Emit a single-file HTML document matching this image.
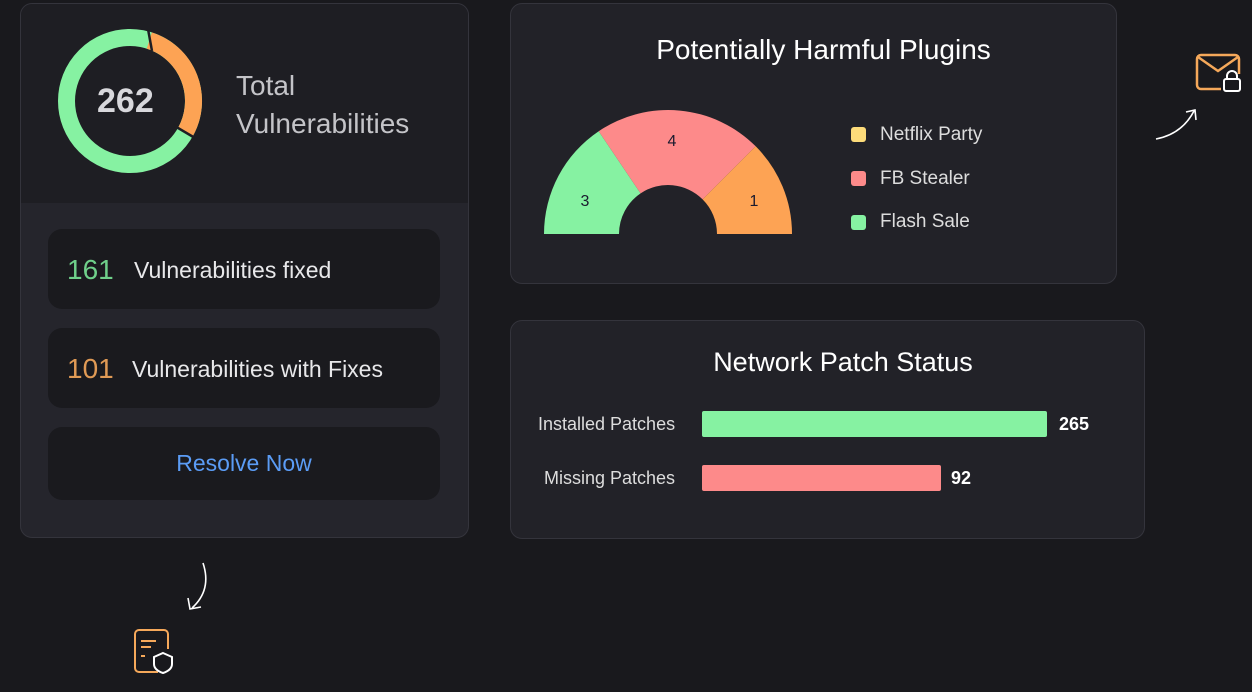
<!DOCTYPE html>
<html><head><style>
body{margin:0;width:1252px;height:692px;background:#19191d;font-family:"Liberation Sans",sans-serif;position:relative;overflow:hidden;color:#fff}
.card{position:absolute;border:1px solid #34343c;border-radius:12px;background:#222228;box-sizing:border-box}
.row{position:absolute;left:48px;width:392px;height:80px;background:#1a1a1e;border-radius:14px;font-size:23px;color:#e8e8ea}
.t{position:absolute;white-space:nowrap}
</style></head><body>
<div class="card" style="left:20px;top:3px;width:449px;height:535px;overflow:hidden;background:#25252c">
  <div style="position:absolute;left:0;top:0;width:100%;height:199px;background:#1e1e23"></div>
</div>
<div class="card" style="left:510px;top:3px;width:607px;height:281px;background:#222228"></div>
<div class="card" style="left:510px;top:320px;width:635px;height:219px;background:#222228"></div>
<svg style="position:absolute;left:0;top:0" width="1252" height="692">
  <circle cx="130" cy="101" r="63.5" fill="none" stroke="#86f2a2" stroke-width="17"/>
  <path d="M149.3,40.5 A63.5,63.5 0 0 1 185,132.8" fill="none" stroke="#fda354" stroke-width="17"/>
  <line x1="148" y1="29" x2="152" y2="51" stroke="#1e1e23" stroke-width="2.5"/>
  <line x1="173" y1="125" x2="195" y2="138" stroke="#1e1e23" stroke-width="2.5"/>
  <path d="M544,234 A124,124 0 0 1 598.7,131.2 L640.6,193.4 A49,49 0 0 0 619,234 Z" fill="#86f2a2"/>
  <path d="M598.7,131.2 A124,124 0 0 1 755.7,146.3 L702.6,199.4 A49,49 0 0 0 640.6,193.4 Z" fill="#fd8a8a"/>
  <path d="M755.7,146.3 A124,124 0 0 1 792,234 L717,234 A49,49 0 0 0 702.6,199.4 Z" fill="#fda354"/>
  <text x="585" y="206" font-size="16" fill="#1a1a2e" text-anchor="middle" font-family="Liberation Sans">3</text>
  <text x="672" y="146" font-size="16" fill="#1a1a2e" text-anchor="middle" font-family="Liberation Sans">4</text>
  <text x="754" y="206" font-size="16" fill="#1a1a2e" text-anchor="middle" font-family="Liberation Sans">1</text>
  <rect x="1197" y="55" width="42" height="34" rx="4" fill="none" stroke="#f5a85a" stroke-width="2.5"/>
  <path d="M1198,57 L1218,71 L1238,57" fill="none" stroke="#f5a85a" stroke-width="2.5"/>
  <rect x="1221" y="74" width="20" height="18" fill="#19191d"/>
  <rect x="1224" y="79" width="16" height="12" rx="2" fill="none" stroke="#fff" stroke-width="2"/>
  <path d="M1227,79 v-3 a5,5 0 0 1 10,0 v3" fill="none" stroke="#fff" stroke-width="2"/>
  <path d="M1156,139 Q1182,134 1194,111 M1186,112 L1195,110 L1196,120" fill="none" stroke="#fff" stroke-width="1.6"/>
  <path d="M203,563 Q212,590 192,608 M188,598 L190,609 L201,607" fill="none" stroke="#fff" stroke-width="1.6"/>
  <path d="M158,672 H139 a4,4 0 0 1 -4,-4 V634 a4,4 0 0 1 4,-4 H164 a4,4 0 0 1 4,4 V649" fill="none" stroke="#f5a85a" stroke-width="2"/>
  <path d="M141,641 h15 M141,647 h10 M141,656 h4" stroke="#f5a85a" stroke-width="2"/>
  <path d="M163,653 l9,4 v7 q0,6 -9,9 q-9,-3 -9,-9 v-7 z" fill="none" stroke="#fff" stroke-width="2"/>
</svg>
<div class="t" style="left:97px;top:82px;font-size:34px;font-weight:bold;color:#d8d8dc">262</div>
<div class="t" style="left:236px;top:67px;font-size:28px;line-height:38px;color:#c4c4c8">Total<br>Vulnerabilities</div>
<div class="row" style="top:229px"><span class="t" style="left:19px;top:25px;font-size:28px;color:#6fd08a">161</span><span class="t" style="left:86px;top:28px">Vulnerabilities fixed</span></div>
<div class="row" style="top:328px"><span class="t" style="left:19px;top:25px;font-size:28px;color:#e09a55">101</span><span class="t" style="left:84px;top:28px">Vulnerabilities with Fixes</span></div>
<div class="row" style="top:427px;height:73px"><span class="t" style="left:0;width:392px;text-align:center;top:23px;color:#5b9cf5">Resolve Now</span></div>

<div class="t" style="left:510px;width:627px;text-align:center;top:34px;font-size:28px">Potentially Harmful Plugins</div>
<div style="position:absolute;left:851px;top:127px;width:15px;height:15px;border-radius:3px;background:#fddc7a"></div>
<div class="t" style="left:880px;top:124px;font-size:19px;color:#ddd">Netflix Party</div>
<div style="position:absolute;left:851px;top:171px;width:15px;height:15px;border-radius:3px;background:#fd8a8a"></div>
<div class="t" style="left:880px;top:168px;font-size:19px;color:#ddd">FB Stealer</div>
<div style="position:absolute;left:851px;top:215px;width:15px;height:15px;border-radius:3px;background:#86f2a2"></div>
<div class="t" style="left:880px;top:211px;font-size:19px;color:#ddd">Flash Sale</div>

<div class="t" style="left:510px;width:666px;text-align:center;top:347px;font-size:27px">Network Patch Status</div>
<div class="t" style="left:538px;top:414px;font-size:18px;color:#ddd">Installed Patches</div>
<div style="position:absolute;left:702px;top:411px;width:345px;height:26px;background:#86f2a2;border-radius:2px"></div>
<div class="t" style="left:1059px;top:414px;font-size:18px;font-weight:bold">265</div>
<div class="t" style="left:544px;top:468px;font-size:18px;color:#ddd">Missing Patches</div>
<div style="position:absolute;left:702px;top:465px;width:239px;height:26px;background:#fd8a8a;border-radius:2px"></div>
<div class="t" style="left:951px;top:468px;font-size:18px;font-weight:bold">92</div>
</body></html>
